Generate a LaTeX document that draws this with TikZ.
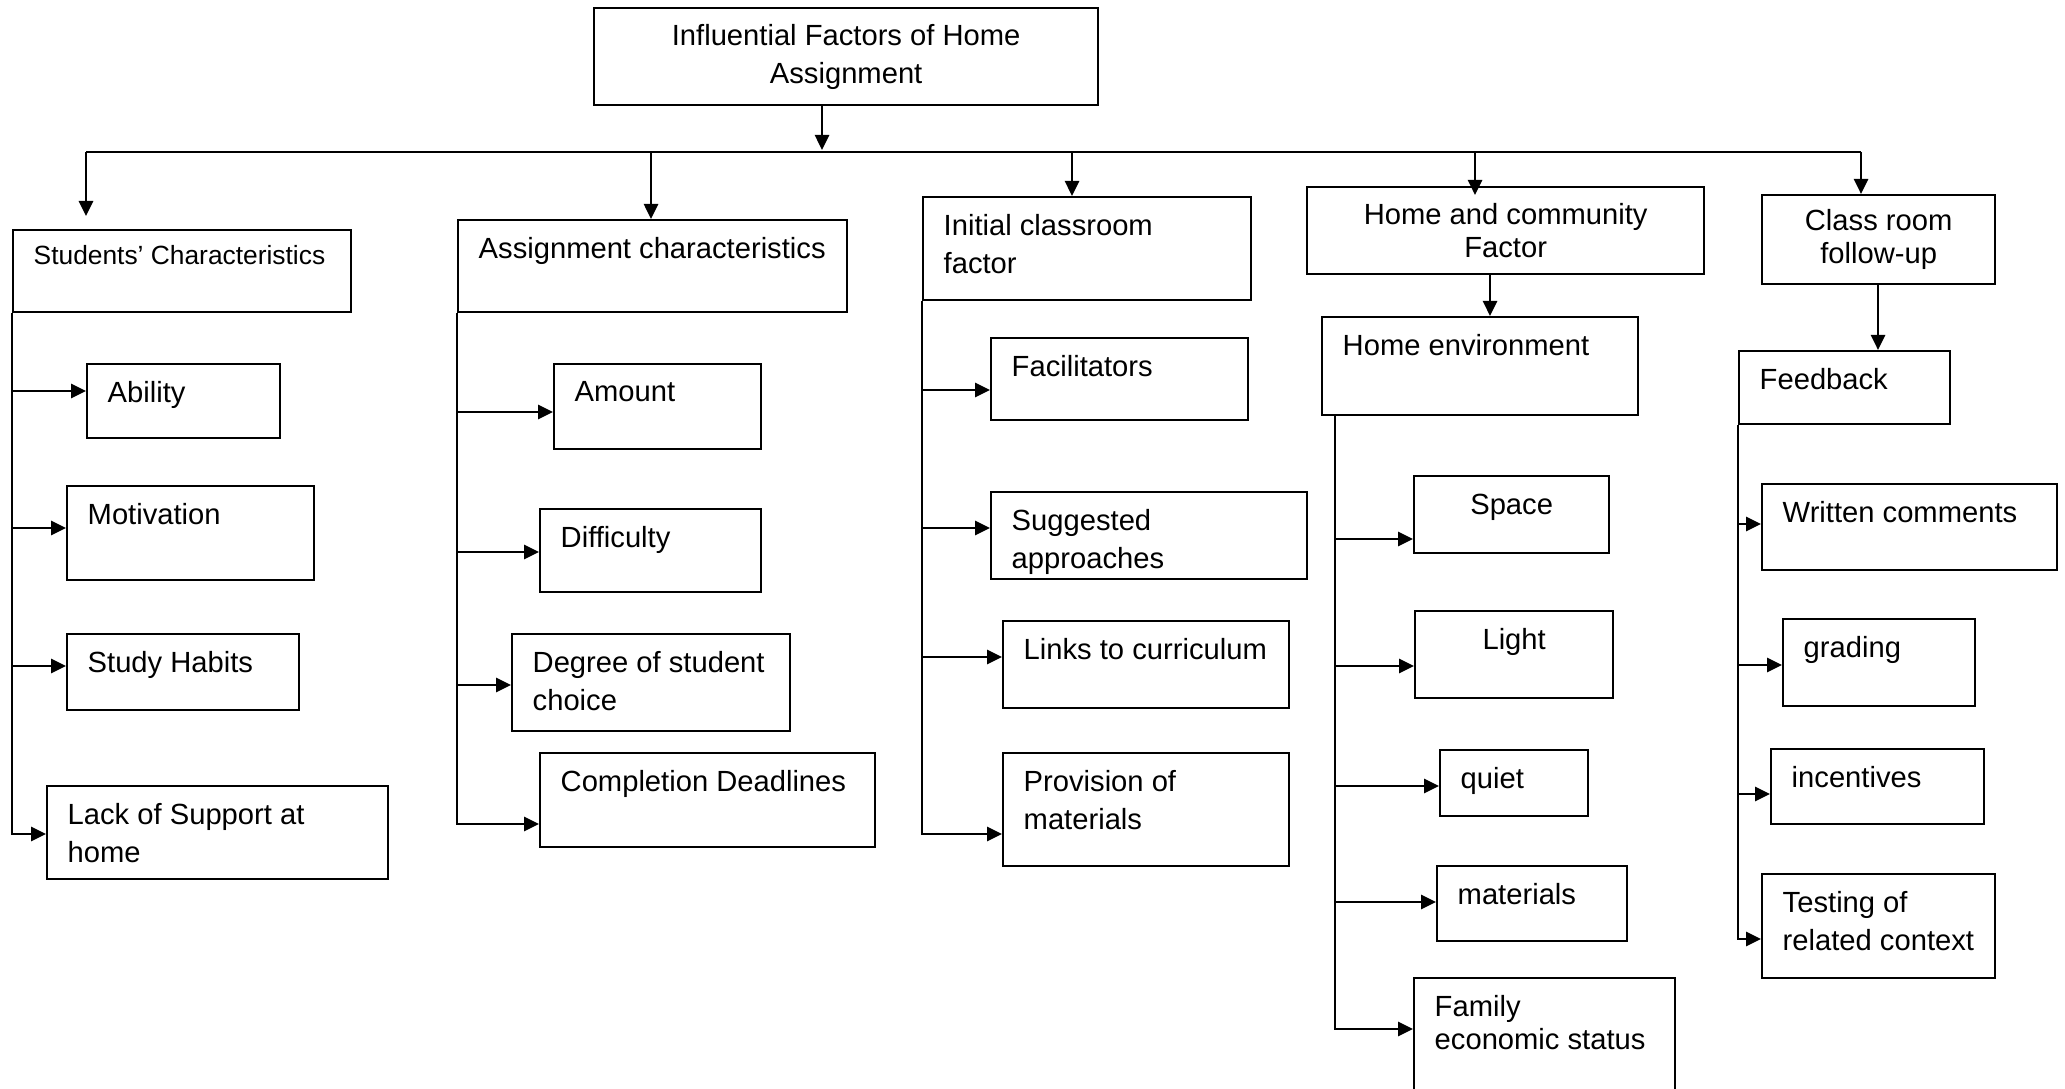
\documentclass[tikz,border=0pt]{standalone}
\usepackage{fontspec}
\setmainfont{Liberation Sans}
\usetikzlibrary{arrows.meta}

\begin{document}
\begin{tikzpicture}[font=\fontsize{8.3}{10.8}\selectfont,
  box/.style={draw, line width=.65pt, anchor=north west, inner sep=0pt},
  sz/.style 2 args={minimum width=#1cm, minimum height=#2cm},
  lbl/.style={anchor=north west, align=left, inner sep=0pt, xshift=.21cm, yshift=-.18cm},
  ctr/.style={anchor=north, align=center, inner sep=0pt, yshift=-.18cm},
  arr/.style={-{Triangle[length=.15cm, width=.14cm]}, line width=.75pt}]
  \useasboundingbox (0,0) rectangle (20.65,-10.89);

  % title and first level
  \node[box, sz={5.04}{.97}, align=center] (top) at (5.93,-.07) {Influential Factors of Home\\Assignment};
  \node[box, sz={3.38}{.82}, label={[lbl, font=\fontsize{7.5}{9}\selectfont, yshift=.02cm]north west:Students' Characteristics}] (sc) at (.12,-2.29) {};
  \node[box, sz={3.89}{.92}, label={[lbl]north west:Assignment characteristics}] (ac) at (4.57,-2.19) {};
  \node[box, sz={3.28}{1.03}, label={[lbl]north west:Initial classroom\\factor}] (icf) at (9.22,-1.96) {};
  \node[box, sz={3.97}{.87}, align=center] (hcf) at (13.06,-1.86) {Home and community\\[-1.4pt]Factor};
  \node[box, sz={2.33}{.89}, align=center] (cfu) at (17.61,-1.94) {Class room\\[-1.4pt]follow-up};
  \node[box, sz={3.16}{.98}, label={[lbl]north west:Home environment}] (he) at (13.21,-3.16) {};
  \node[box, sz={2.11}{.73}, label={[lbl]north west:Feedback}] (fb) at (17.38,-3.50) {};

  % students
  \node[box, sz={1.93}{.74}, label={[lbl]north west:Ability}] (abil) at (.86,-3.63) {};
  \node[box, sz={2.47}{.94}, label={[lbl]north west:Motivation}] (motiv) at (.66,-4.85) {};
  \node[box, sz={2.32}{.76}, label={[lbl]north west:Study Habits}] (study) at (.66,-6.33) {};
  \node[box, sz={3.41}{.93}, label={[lbl]north west:Lack of Support at\\home}] (lack) at (.46,-7.85) {};

  % assignment
  \node[box, sz={2.07}{.85}, label={[lbl]north west:Amount}] (amt) at (5.53,-3.63) {};
  \node[box, sz={2.21}{.83}, label={[lbl]north west:Difficulty}] (diff) at (5.39,-5.08) {};
  \node[box, sz={2.78}{.97}, label={[lbl]north west:Degree of student\\choice}] (deg) at (5.11,-6.33) {};
  \node[box, sz={3.35}{.94}, label={[lbl]north west:Completion Deadlines}] (compl) at (5.39,-7.52) {};

  % classroom
  \node[box, sz={2.57}{.82}, label={[lbl]north west:Facilitators}] (facil) at (9.90,-3.37) {};
  \node[box, sz={3.16}{.87}, label={[lbl]north west:Suggested\\approaches}] (sugg) at (9.90,-4.91) {};
  \node[box, sz={2.86}{.87}, label={[lbl]north west:Links to curriculum}] (links) at (10.02,-6.20) {};
  \node[box, sz={2.86}{1.13}, label={[lbl]north west:Provision of\\materials}] (prov) at (10.02,-7.52) {};

  % home
  \node[box, sz={1.95}{.77}, label={[ctr]north:Space}] (space) at (14.13,-4.75) {};
  \node[box, sz={1.98}{.87}, label={[ctr]north:Light}] (light) at (14.14,-6.10) {};
  \node[box, sz={1.48}{.66}, label={[lbl]north west:quiet}] (quiet) at (14.39,-7.49) {};
  \node[box, sz={1.90}{.75}, label={[lbl]north west:materials}] (mat) at (14.36,-8.65) {};
  \node[box, sz={2.61}{1.2}, label={[lbl]north west:Family\\[-1.4pt]economic status}] (fam) at (14.13,-9.77) {};

  % follow-up
  \node[box, sz={2.95}{.86}, label={[lbl]north west:Written comments}] (writ) at (17.61,-4.83) {};
  \node[box, sz={1.92}{.87}, label={[lbl]north west:grading}] (grad) at (17.82,-6.18) {};
  \node[box, sz={2.13}{.75}, label={[lbl]north west:incentives}] (inc) at (17.70,-7.48) {};
  \node[box, sz={2.33}{1.04}, label={[lbl]north west:Testing of\\related context}] (test) at (17.61,-8.73) {};

  % connectors
  \coordinate (bus) at (8.22,-1.50);
  \coordinate (busL) at (.86,-1.52);
  \coordinate (busR) at (18.61,-1.52);
  \draw[arr] (top.south -| bus) -- (bus);
  \draw[line width=.75pt] (busL) -- (busR);
  \foreach \x/\n/\s in {.86/sc/.13, 6.51/ac/0, 10.72/icf/0, 14.75/hcf/-.09, 18.61/cfu/0}
    \draw[arr, shorten >=\s cm] (busL -| \x,0) -- (\n.north -| \x,0);
  \draw[arr] (hcf.south -| 14.90,0) -- (he.north -| 14.90,0);
  \draw[arr] (cfu.south -| 18.78,0) -- (fb.north -| 18.78,0);

  \foreach \n/\y in {abil/3.91, motiv/5.28, study/6.66, lack/8.34}
    \draw[arr] (sc.south west) |- (\n.west |- 0,-\y);
  \foreach \n/\y in {amt/4.12, diff/5.52, deg/6.85, compl/8.24}
    \draw[arr] (ac.south west) |- (\n.west |- 0,-\y);
  \foreach \n/\y in {facil/3.90, sugg/5.28, links/6.57, prov/8.34}
    \draw[arr] (icf.south west) |- (\n.west |- 0,-\y);
  \foreach \n/\y in {space/5.39, light/6.66, quiet/7.86, mat/9.02, fam/10.29}
    \draw[arr] ([xshift=.14cm]he.south west) |- (\n.west |- 0,-\y);
  \foreach \n/\y in {writ/5.24, grad/6.65, inc/7.94, test/9.39}
    \draw[arr] (fb.south west) |- (\n.west |- 0,-\y);
\end{tikzpicture}
\end{document}
